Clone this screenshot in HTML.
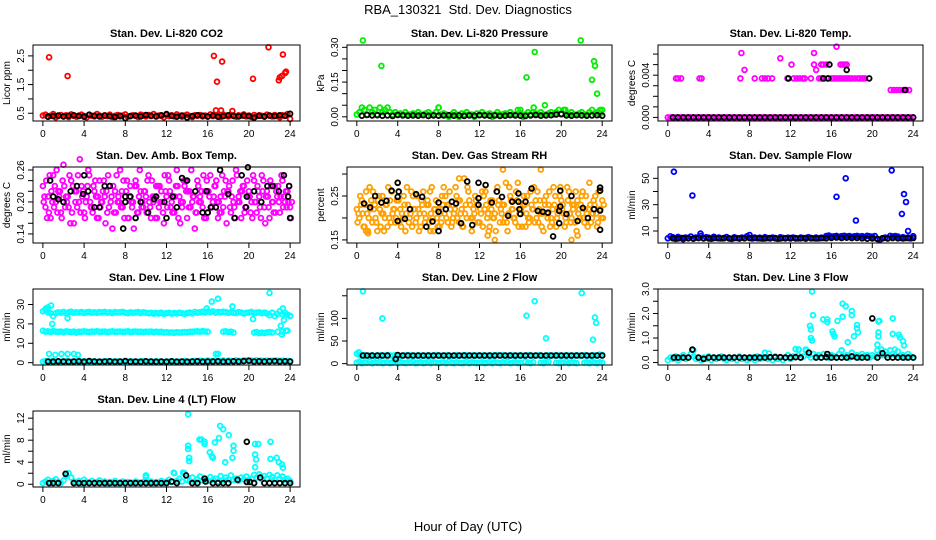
<!DOCTYPE html>
<html><head><meta charset="utf-8"><title>RBA_130321 Std. Dev. Diagnostics</title>
<style>html,body{margin:0;padding:0;background:#fff}svg{display:block;font-family:"Liberation Sans",Arial,sans-serif}</style>
</head><body>
<svg id="chart" width="936" height="540" viewBox="0 0 936 540" xmlns="http://www.w3.org/2000/svg">
<rect x="0" y="0" width="936" height="540" fill="#fff"/>
<text x="468" y="14" text-anchor="middle" font-size="13">RBA_130321&#160; Std. Dev. Diagnostics</text>
<text x="468" y="531" text-anchor="middle" font-size="13">Hour of Day (UTC)</text>
</svg>
<script>
// ---------- shared x data ----------
const xTicks = [0,4,8,12,16,20,24];
// ---------- CO2 ----------
const co2Band = [0.42,0.45,0.38,0.41,0.47,0.36,0.40,0.44,0.39,0.43,0.37,0.46,0.41,0.38,0.42,0.45,0.40,0.36,0.44,0.41,0.39,0.47,0.42,0.38,0.43,0.40,0.45,0.37,0.41,0.44,0.39,0.42,0.46,0.38,0.40,0.43,0.41,0.37,0.45,0.42,0.39,0.44,0.40,0.47,0.38,0.42,0.41,0.36,0.44,0.40,0.43,0.39,0.46,0.41,0.38,0.42,0.45,0.40,0.37,0.43,0.41,0.44,0.39,0.42,0.38,0.46,0.40,0.43,0.41,0.37,0.45,0.42,0.39,0.44,0.40,0.38,0.43,0.41,0.46,0.39,0.42,0.37,0.44,0.40,0.43,0.41,0.38,0.45,0.42,0.39,0.44,0.40,0.36,0.43,0.41,0.47,0.30];
const co2OutHours = [0.6,2.4,16.6,16.9,17.4,20.4,21.9,22.9,23.0,23.2,23.3,23.5,23.6,16.8,17.3,18.4];
const co2OutVals  = [2.45,1.8,2.5,1.6,2.3,1.7,2.8,1.65,1.75,1.8,2.55,1.9,1.95,0.6,0.6,0.58];
const co2Mean = [0.38,0.40,0.42,0.39,0.41,0.43,0.40,0.38,0.45,0.41,0.39,0.42,0.40,0.37,0.41,0.33,0.40,0.42,0.39,0.44,0.41,0.40,0.43,0.47,0.41,0.38,0.42,0.35,0.40,0.43,0.41,0.39,0.42,0.38,0.40,0.43,0.41,0.39,0.42,0.40,0.35,0.41,0.39,0.42,0.40,0.43,0.41,0.48];
// ---------- Pressure ----------
const presBand = [0.01,0.02,0.04,0.03,0.01,0.04,0.02,0.03,0.01,0.04,0.02,0.03,0.04,0.02,0.01,0.02,0.01,0.015,0.01,0.02,0.01,0.01,0.015,0.01,0.02,0.01,0.01,0.015,0.02,0.01,0.01,0.02,0.04,0.01,0.015,0.01,0.00,0.01,0.02,0.01,0.00,0.015,0.01,0.02,0.01,0.01,0.00,0.015,0.01,0.02,0.01,0.01,0.015,0.00,0.01,0.02,0.01,0.01,0.015,0.01,0.02,0.01,0.01,0.03,0.015,0.00,0.01,0.02,0.01,0.02,0.015,0.01,0.02,0.01,0.01,0.015,0.02,0.01,0.02,0.03,0.01,0.03,0.015,0.01,0.02,0.01,0.01,0.015,0.02,0.01,0.01,0.02,0.03,0.015,0.02,0.01,0.03];
const presOutHours = [0.6,2.4,16.6,17.4,21.9,23.0,23.2,23.3,23.5,23.8,8.0,18.4,16.0,20.4,17.3];
const presOutVals  = [0.33,0.22,0.17,0.28,0.33,0.16,0.24,0.22,0.10,0.03,0.04,0.05,0.03,0.03,0.04];
const presMean = [0.005,0.008,0.006,0.007,0.005,0.006,0.004,0.008,0.006,0.005,0.006,0.005,0.007,0.004,0.006,0.005,0.006,0.007,0.005,0.006,0.004,0.006,0.005,0.007,0.006,0.005,0.006,0.004,0.005,0.007,0.006,0.005,0.004,0.006,0.008,0.005,0.006,0.007,0.010,0.012,0.006,0.005,0.007,0.006,0.005,0.006,0.007,0.005];
// ---------- Li-820 Temp ----------
const tempBand = [0,0,0,0,0,0,0,0,0,0,0,0,0,0,0,0,0,0,0,0,0,0,0,0,0,0,0,0,0,0,0,0,0,0,0,0,0,0,0,0,0,0,0,0,0,0,0,0,0,0,0,0,0,0,0,0,0,0,0,0,0,0,0,0,0,0,0,0,0,0,0,0,0,0,0,0,0,0,0,0,0,0,0,0,0,0,0,0,0,0,0,0,0,0,0,0,0];
const tempOutHours = [0.8,1.0,1.3,3.1,3.3,7.1,7.2,7.5,8.5,9.2,9.5,9.8,10.2,11.0,11.7,12.1,12.3,12.6,12.9,13.2,13.4,14.0,14.3,14.3,14.5,14.8,15.0,15.3,15.6,16.0,16.2,16.5,16.8,17.0,17.2,17.4,17.6,17.8,18.0,18.3,18.6,19.0,19.3,16.9,17.1,17.3,17.5,15.2,15.5,21.8,22.1,22.4,22.7,23.0,23.3,23.6,15.0,16.4,16.6,18.8,19.1];
const tempOutVals  = [0.0037,0.0037,0.0037,0.0037,0.0037,0.0037,0.0061,0.0045,0.0037,0.0037,0.0037,0.0037,0.0037,0.0056,0.0037,0.0050,0.0037,0.0037,0.0037,0.0037,0.0037,0.0037,0.0061,0.0050,0.0045,0.0037,0.0037,0.0037,0.0037,0.0037,0.0037,0.0067,0.0037,0.0037,0.0037,0.0037,0.0037,0.0037,0.0037,0.0037,0.0037,0.0037,0.0037,0.0050,0.0050,0.0050,0.0050,0.0050,0.0050,0.0026,0.0026,0.0026,0.0026,0.0026,0.0026,0.0026,0.0050,0.0037,0.0037,0.0037,0.0037];
const tempMean = [0,0,0,0,0,0,0,0,0,0,0,0,0,0,0,0,0,0,0,0,0,0,0,0,0,0,0,0,0,0,0,0,0,0,0,0,0,0,0,0,0,0,0,0,0,0,0,0];
const tempMeanExHours = [11.8,15.2,15.7,19.7,15.8,17.5,23.2];
const tempMeanExVals  = [0.0037,0.0037,0.0037,0.0037,0.0050,0.0045,0.0026];
// ---------- Amb. Box Temp ----------
const ambA = [0.23,0.19,0.21,0.17,0.25,0.20,0.22,0.18,0.27,0.21,0.19,0.24,0.16,0.22,0.20,0.23,0.18,0.21,0.25,0.19,0.22,0.17,0.24,0.20,0.21,0.18,0.23,0.15,0.22,0.20,0.26,0.19,0.21,0.17,0.23,0.20,0.24,0.18,0.22,0.19,0.21,0.25,0.17,0.20,0.23,0.19,0.22,0.16,0.21,0.24,0.20,0.18,0.26,0.21,0.19,0.23,0.17,0.22,0.20,0.15,0.24,0.21,0.19,0.22,0.18,0.25,0.20,0.23,0.17,0.21,0.19,0.24,0.22,0.18,0.20,0.26,0.21,0.17,0.23,0.19,0.22,0.20,0.24,0.18,0.21,0.25,0.19,0.22,0.17,0.20,0.23,0.21,0.18,0.24,0.20,0.22,0.19];
const ambB = [0.20,0.24,0.18,0.22,0.19,0.26,0.21,0.17,0.23,0.20,0.25,0.18,0.22,0.19,0.28,0.21,0.17,0.23,0.20,0.18,0.24,0.21,0.19,0.22,0.16,0.25,0.20,0.23,0.18,0.21,0.19,0.24,0.22,0.17,0.20,0.15,0.23,0.21,0.19,0.22,0.18,0.20,0.24,0.21,0.17,0.23,0.20,0.25,0.19,0.22,0.18,0.21,0.23,0.16,0.20,0.24,0.22,0.19,0.21,0.18,0.23,0.20,0.25,0.17,0.22,0.19,0.21,0.24,0.20,0.18,0.22,0.16,0.23,0.21,0.19,0.25,0.20,0.22,0.18,0.24,0.21,0.17,0.20,0.23,0.19,0.22,0.16,0.21,0.24,0.20,0.18,0.23,0.21,0.19,0.22,0.20,0.17];
const ambC = [0.21,0.17,0.25,0.20,0.23,0.18,0.22,0.24,0.19,0.21,0.16,0.23,0.20,0.25,0.18,0.22,0.20,0.26,0.19,0.23,0.21,0.17,0.20,0.24,0.22,0.19,0.21,0.18,0.25,0.20,0.22,0.17,0.24,0.21,0.19,0.23,0.18,0.26,0.20,0.22,0.24,0.19,0.21,0.17,0.23,0.20,0.18,0.22,0.25,0.19,0.21,0.23,0.17,0.20,0.24,0.22,0.19,0.26,0.21,0.18,0.20,0.22,0.17,0.24,0.21,0.19,0.23,0.20,0.18,0.25,0.21,0.22,0.19,0.24,0.17,0.20,0.22,0.23,0.19,0.21,0.18,0.25,0.20,0.22,0.17,0.24,0.21,0.19,0.23,0.18,0.22,0.20,0.25,0.21,0.19,0.23,0.20];
const ambMeanHours = [0.7,1.0,1.5,2.0,2.7,3.3,3.9,4.0,4.4,5.0,5.5,6.0,6.5,7.8,8.0,8.0,8.5,9.0,9.5,10.2,10.8,11.0,11.8,12.0,12.6,13.0,13.5,14.0,14.8,15.5,15.9,16.0,16.3,16.8,17.2,18.0,18.6,19.3,19.7,19.8,19.9,20.5,21.2,21.8,22.3,22.9,23.4,23.8,23.9,24.0];
const ambMeanVals  = [0.24,0.21,0.205,0.20,0.22,0.23,0.215,0.25,0.22,0.19,0.19,0.23,0.23,0.15,0.21,0.20,0.21,0.17,0.20,0.18,0.205,0.21,0.20,0.17,0.21,0.19,0.245,0.24,0.22,0.18,0.22,0.18,0.19,0.19,0.26,0.215,0.17,0.25,0.19,0.21,0.265,0.22,0.20,0.23,0.23,0.22,0.25,0.21,0.23,0.17];
// ---------- Gas Stream RH ----------
const rhA = [0.22,0.20,0.24,0.18,0.21,0.27,0.19,0.23,0.17,0.22,0.25,0.20,0.18,0.24,0.21,0.19,0.28,0.22,0.20,0.17,0.23,0.21,0.25,0.19,0.22,0.18,0.26,0.20,0.23,0.21,0.17,0.24,0.22,0.19,0.27,0.20,0.23,0.18,0.21,0.25,0.19,0.22,0.29,0.20,0.24,0.17,0.21,0.23,0.19,0.26,0.22,0.20,0.18,0.24,0.21,0.27,0.19,0.23,0.20,0.17,0.25,0.22,0.19,0.28,0.21,0.23,0.18,0.20,0.26,0.22,0.24,0.19,0.21,0.17,0.25,0.23,0.20,0.27,0.18,0.22,0.24,0.21,0.19,0.26,0.20,0.23,0.17,0.22,0.25,0.19,0.21,0.28,0.20,0.23,0.18,0.22,0.24];
const rhB = [0.19,0.25,0.21,0.23,0.17,0.22,0.26,0.20,0.24,0.18,0.21,0.23,0.27,0.19,0.22,0.20,0.24,0.18,0.25,0.21,0.19,0.26,0.22,0.20,0.17,0.24,0.21,0.23,0.19,0.27,0.22,0.20,0.18,0.25,0.21,0.23,0.26,0.19,0.22,0.20,0.24,0.18,0.21,0.27,0.23,0.20,0.25,0.19,0.22,0.18,0.26,0.21,0.24,0.20,0.17,0.23,0.22,0.19,0.28,0.21,0.24,0.20,0.26,0.18,0.22,0.25,0.21,0.19,0.23,0.27,0.20,0.22,0.18,0.24,0.21,0.26,0.19,0.23,0.20,0.25,0.22,0.18,0.27,0.21,0.23,0.19,0.24,0.20,0.26,0.22,0.18,0.23,0.21,0.25,0.19,0.22,0.20];
const rhC = [0.21,0.23,0.18,0.26,0.20,0.24,0.22,0.19,0.25,0.21,0.17,0.23,0.20,0.26,0.22,0.24,0.19,0.21,0.23,0.27,0.20,0.18,0.22,0.25,0.21,0.23,0.19,0.24,0.26,0.20,0.22,0.18,0.21,0.23,0.25,0.19,0.22,0.20,0.27,0.24,0.21,0.18,0.23,0.26,0.20,0.22,0.24,0.19,0.21,0.25,0.23,0.17,0.22,0.20,0.26,0.24,0.21,0.23,0.19,0.27,0.22,0.20,0.24,0.21,0.18,0.23,0.25,0.20,0.22,0.19,0.26,0.24,0.21,0.23,0.20,0.18,0.22,0.25,0.21,0.27,0.23,0.20,0.24,0.19,0.22,0.26,0.21,0.23,0.20,0.25,0.22,0.19,0.24,0.21,0.26,0.20,0.23];
const rhOutHours = [0.9,1.1,7.2,13.5,14.3,18.0,21.0,21.6,10.0,12.8];
const rhOutVals  = [0.17,0.165,0.17,0.15,0.31,0.31,0.15,0.16,0.29,0.16];
const rhMeanHours = [0.7,1.3,1.8,2.4,2.9,3.4,4.0,4.0,4.1,4.0,4.7,5.2,5.8,6.4,6.8,7.4,8.0,8.0,8.0,8.7,9.3,9.7,10.2,10.8,11.3,11.9,11.9,11.9,12.6,13.2,13.7,14.2,14.8,15.2,15.8,15.8,15.9,16.0,16.5,17.1,17.7,18.2,18.7,19.2,19.8,19.9,19.8,19.9,20.5,21.0,21.6,22.1,22.6,23.2,23.8,23.8,23.8,23.8];
const rhMeanVals  = [0.233,0.224,0.25,0.235,0.239,0.262,0.28,0.248,0.26,0.193,0.198,0.22,0.254,0.248,0.18,0.192,0.214,0.235,0.17,0.22,0.237,0.233,0.188,0.283,0.184,0.28,0.245,0.23,0.275,0.235,0.26,0.248,0.205,0.237,0.256,0.237,0.22,0.209,0.237,0.267,0.216,0.214,0.212,0.158,0.216,0.226,0.188,0.262,0.209,0.25,0.193,0.223,0.2,0.22,0.269,0.262,0.217,0.173];
// ---------- Sample Flow ----------
const flowBand = [4.5,6.0,5.2,4.0,5.5,4.8,3.8,5.0,4.6,5.8,4.2,5.1,4.7,6.2,4.4,5.3,4.9,4.1,5.6,4.6,5.0,4.3,4.8,5.4,4.5,4.0,5.2,4.7,4.4,5.0,4.6,6.0,4.8,4.3,5.1,4.5,4.9,4.2,5.3,4.6,4.4,5.0,4.7,4.1,5.2,4.8,4.5,4.9,4.3,5.1,4.6,4.4,5.0,4.7,4.2,5.3,4.8,4.5,5.0,4.4,4.9,4.6,6.2,6.5,5.8,6.0,6.3,5.7,6.1,6.4,5.9,6.2,5.6,6.0,6.3,5.8,6.1,5.5,6.4,6.0,5.7,6.2,4.0,3.5,4.5,5.0,4.6,6.3,5.9,6.2,5.8,4.8,5.3,4.6,5.0,4.4,6.0];
const flowOutHours = [0.6,2.4,3.2,16.5,17.4,18.4,21.9,22.9,23.1,23.3,23.5,24.0,8.0];
const flowOutVals  = [55,37,8,36,50,18,56,23,38,32,10,6,7];
const flowMean = [4.5,4.4,4.6,4.5,4.3,4.7,4.5,4.4,4.6,4.5,4.5,4.4,4.6,4.3,4.5,4.7,4.8,4.5,4.4,4.6,4.5,4.3,4.5,4.6,4.4,4.5,4.7,4.5,4.4,4.6,4.5,4.8,5.0,4.7,4.9,4.6,4.8,4.5,4.2,4.4,4.0,4.5,4.3,4.6,4.5,4.4,4.6,4.7];
// ---------- Line 1 Flow ----------
const l1High = [26.5,27,26,25.5,24,25.5,26,25.8,26.2,25.5,26,26.3,25.7,26,25.9,26.1,25.6,26,26.2,25.8,26,25.7,26.1,25.9,26.2,25.8,26,25.6,26.1,25.9,26,26.2,25.8,25.5,26,25.7,25.9,26.1,25.6,26,25.8,25.5,25.7,25.3,25.6,25.4,25.8,25.2,25.5,25.7,25.3,25.6,25.4,25.8,25.5,25.2,25.6,25.9,25.4,26.2,25.8,26,26.3,25.9,26.4,26.1,26.5,25.8,26.2,26,26.3,26.1,25.7,26,25.8,25.6,26.1,25.9,25.4,25.7,25.9,26.2,25.6,25.8,26,25.5,25.9,25.3,24.5,25.8,24,25.2,26.5,25,25.7,24.8,24.2];
const l1Mid = [16.5,16,16.2,15.8,16.3,16,15.9,16.1,15.7,16.2,16,15.8,16.1,15.5,16,15.9,16.2,16,15.8,16.1,16,16.2,15.9,16,16.1,15.8,16,16.2,15.9,16,16.1,15.9,16,16.2,15.8,16,16.1,15.9,16,15.8,16,15.9,16.1,15.7,16,15.8,15.9,15.6,15.7,15.5,15.6,15.4,15.7,15.5,15.6,15.8,15.7,15.9,16,16.1,16.2,16,16.3,16.1,16,null,null,null,null,null,16,16.2,15.8,16,15.5,null,null,null,null,null,null,null,15.5,15.8,15.2,15.5,15.3,15.6,15.8,15.5,null,null,null,16,null,16.5,null];
const l1Low = [0.5,0.8,0.4,0.6,0.9,0.5,0.7,0.4,0.6,0.8,0.5,0.6,0.4,0.7,0.5,0.6,0.8,0.4,0.5,0.6,0.7,0.4,0.5,0.6,0.5,0.8,0.4,0.6,0.5,0.7,0.5,0.4,0.6,0.5,0.7,0.6,0.4,0.5,0.6,0.8,0.5,0.4,0.6,0.5,0.7,0.5,0.6,0.4,0.5,0.6,0.7,0.5,0.4,0.6,0.5,0.8,0.6,0.5,0.7,0.9,0.6,1.0,0.8,0.7,1.1,0.9,0.8,1.0,0.7,0.9,1.1,0.8,1.0,0.9,0.7,1.2,0.9,0.8,1.0,1.1,0.9,1.0,0.8,1.2,0.9,1.0,0.8,1.1,0.9,1.0,0.8,1.1,0.9,1.0,0.7,0.9,0.8];
const l1OutHours = [0.3,0.5,0.8,0.9,0.6,1.2,1.8,2.4,3.0,3.4,2.4,15.9,16.4,17.0,18.4,20.4,22.0,23.0,23.3,23.4,23.1,23.2,22.8,23.6,24.0,16.8,17.0];
const l1OutVals  = [28,28.5,29.5,20,4.5,4,4.5,4.5,4.5,4,23,28,31.5,33,29,22.5,36,26.5,28,22,19,14.5,16,16.5,24,4.5,4.5];
const l1Mean = [0.6,0.5,0.7,0.6,0.5,0.6,0.7,0.5,0.8,0.6,0.5,0.6,0.7,0.5,0.6,0.8,0.5,0.6,0.5,0.7,0.6,0.5,0.6,0.5,0.7,0.5,0.6,0.5,0.6,0.7,0.5,0.6,0.6,0.7,0.5,0.6,0.7,0.6,0.8,1.0,0.6,0.7,0.6,0.7,0.8,0.6,0.7,0.6];
// ---------- Line 2 Flow ----------
const l2High = [22,19,18,18.5,17.5,18,18.5,17,18,18.5,17.5,18,19,18,17.5,18.5,18,17,18,18.5,19,18,17.5,18,18.5,18,17,18,18.5,17.5,18,19,18,17.5,18,18.5,18,17,18,18.5,17.5,18,19,18,18,18.5,17.5,18,18.5,18,17,18,18.5,17.5,18,19,18,18.5,17.5,18,18.5,18,17,18,18.5,17.5,18,19,18,17.5,18,18.5,18,17,18,18.5,17.5,18,19,18,17.5,18,18.5,18,17,18,18.5,17.5,18,19,18,17.5,18,18.5,18,20,19];
const l2Low = [2,4,1,3,2,5,1,3,2,4,1,2,3,1,2,4,1,3,2,1,3,2,4,1,2,3,1,2,4,1,3,2,1,2,3,1,4,2,1,3,2,1,2,4,1,3,2,1,2,3,1,2,4,1,3,2,1,3,2,4,1,2,3,1,2,null,4,2,1,3,null,null,2,1,3,4,null,null,2,1,3,2,4,1,3,2,1,null,null,2,3,1,4,2,1,3,2];
const l2OutHours = [0.6,2.5,16.6,17.4,18.5,22.0,23.1,23.3,23.4,0.2];
const l2OutVals  = [160,100,106,138,56,156,53,102,90,25];
const l2MeanHours = [0.6,1.0,1.5,2.0,2.5,3.0,3.8,4.0,4.5,5.0,5.5,6.0,6.5,7.0,7.5,8.0,8.5,9.0,9.5,10.0,10.5,11.0,11.5,12.0,12.5,13.0,13.5,14.0,14.5,15.0,15.5,16.0,16.5,17.0,17.5,18.0,18.5,19.0,19.5,20.0,20.5,21.0,21.5,22.0,22.5,23.0,23.5,24.0];
const l2MeanVals  = [18,18,18,18,18,18,10,19,18,18,18,18,18,18,18,18,18,18,18,18,18,18,18,18,18,18,18,18,18,18,18,18,18,18,18,18,18,18,18,18,18,18,18,18,18,18,18,18];
// ---------- Line 3 Flow ----------
const l3Band = [0.1,0.2,0.15,0.25,0.1,0.2,0.3,0.15,0.2,0.35,0.25,0.15,0.2,0.1,0.2,0.15,0.25,0.1,0.2,0.15,0.2,0.25,0.15,0.1,0.2,0.15,0.2,0.1,0.25,0.15,0.2,0.1,0.15,0.2,0.1,0.25,0.15,0.2,0.4,0.15,0.2,0.1,0.25,0.15,0.2,0.1,0.2,0.3,0.15,0.25,0.55,0.3,0.2,0.25,0.5,0.3,0.2,0.35,0.25,0.3,0.2,0.35,0.25,0.2,0.3,0.25,0.2,0.35,0.5,0.25,0.3,0.2,0.4,0.25,0.3,0.2,0.35,0.25,0.3,0.2,0.3,0.25,0.5,0.35,0.3,0.45,0.3,0.5,0.35,0.3,0.45,0.25,0.3,0.2,0.35,0.25,0.2];
const l3OutHours = [14.1,13.9,14.0,14.0,14.1,14.2,15.2,15.6,15.6,16.1,16.2,16.3,16.6,17.1,17.1,17.4,17.6,18.0,18.0,18.2,18.5,18.5,18.6,20.6,20.7,20.6,20.6,20.5,22.0,22.0,22.6,22.7,23.0,23.1,12.8,13.5,17.0,20.9,22.2,9.9,2.5];
const l3OutVals  = [2.9,1.5,1.35,1.0,0.9,1.93,1.76,1.76,1.65,1.27,1.17,1.07,1.7,1.87,2.4,2.3,0.83,2.1,1.93,1.07,1.4,1.53,1.23,1.67,1.7,1.23,1.07,0.73,1.8,1.17,1.13,1.03,0.87,0.7,0.53,0.53,0.5,0.53,0.53,0.37,0.5];
const l3MeanHours = [0.6,1.0,1.5,2.0,2.4,3.0,3.5,4.0,4.5,5.0,5.5,6.0,6.5,7.0,7.5,8.0,8.5,9.0,9.5,10.0,10.5,11.0,11.5,12.0,12.5,13.0,13.8,14.5,15.0,15.5,15.6,16.0,16.5,17.0,17.5,18.0,18.5,19.0,19.5,20.0,20.5,21.0,21.5,22.0,22.5,23.0,23.5,24.0];
const l3MeanVals  = [0.2,0.2,0.2,0.2,0.53,0.2,0.15,0.2,0.2,0.2,0.2,0.2,0.2,0.2,0.2,0.2,0.2,0.2,0.2,0.22,0.22,0.22,0.2,0.2,0.22,0.2,0.4,0.2,0.2,0.22,0.35,0.2,0.2,0.2,0.2,0.25,0.2,0.2,0.2,1.8,0.2,0.38,0.2,0.2,0.2,0.2,0.2,0.2];
// ---------- Line 4 (LT) Flow ----------
const l4Band = [0.2,0.5,0.8,0.3,0.6,0.9,0.4,0.2,0.7,1.5,2.0,1.2,0.5,0.3,0.6,0.2,0.8,0.4,0.3,0.6,0.2,0.4,0.7,0.3,0.5,0.2,0.4,0.3,0.6,0.2,0.3,0.5,0.2,0.4,0.3,0.2,0.5,0.3,0.2,0.4,1.6,0.3,0.5,0.2,0.4,0.3,0.6,0.2,0.5,0.8,0.4,2.0,0.6,1.0,0.5,2.0,0.8,0.6,1.2,0.5,0.9,1.4,0.7,1.0,0.6,1.3,0.8,1.0,0.5,1.5,0.7,1.2,0.9,1.6,0.8,1.0,0.6,1.2,0.9,1.4,0.8,1.0,1.7,1.2,1.8,0.9,1.5,1.1,1.7,1.3,0.9,1.6,1.0,1.4,0.8,1.0,0.6];
const l4OutHours = [14.1,14.1,14.1,14.2,14.2,15.2,15.4,15.7,15.7,16.2,16.4,16.5,16.7,17.1,17.2,17.5,17.7,18.05,18.4,18.5,18.5,20.6,20.9,20.6,20.7,20.6,22.1,22.1,22.7,22.9,23.2,23.3,2.2,10.0,12.7,13.6];
const l4OutVals  = [12.7,7.0,6.4,4.8,4.2,8.1,8.1,7.7,7.3,5.8,5.1,4.8,7.6,8.4,10.6,10.0,4.0,8.9,4.8,6.1,7.0,7.3,7.3,5.4,4.5,3.1,7.7,4.6,4.8,4.0,3.6,3.0,1.8,1.3,2.1,2.1];
const l4MeanHours = [0.6,1.0,1.5,2.2,3.0,3.5,4.0,4.5,5.0,5.5,6.0,6.5,7.0,7.5,8.0,8.5,9.0,9.5,10.0,10.5,11.0,11.5,12.0,12.5,13.0,13.9,14.5,15.0,15.7,15.8,16.5,17.0,17.5,18.0,18.9,19.8,19.8,20.1,20.5,21.1,21.5,22.0,22.5,23.0,23.5,24.0];
const l4MeanVals  = [0.2,0.2,0.2,1.9,0.2,0.2,0.2,0.2,0.2,0.2,0.2,0.2,0.2,0.2,0.2,0.2,0.2,0.2,0.2,0.2,0.2,0.2,0.2,0.5,0.2,1.6,0.2,0.2,1.0,0.5,0.2,0.2,0.2,0.2,0.8,7.7,0.4,0.4,0.2,1.2,0.2,0.2,0.2,0.2,0.2,0.2];

// ---------- layout (not data) ----------
const NS = 'http://www.w3.org/2000/svg';
const svg = document.getElementById('chart');
const colX = [[33,300],[347,612],[658,923]];
const rowY = [45,167,289,411];
const boxH = 76;
const X_MIN = -0.96, X_MAX = 24.96;
const bandHours = Array.from({length:97},(_,i)=>i*0.25);
const meanHours = Array.from({length:48},(_,i)=>0.5+i*0.5);
const shift = (arr,d)=>arr.map(h=>h+d);

function mk(tag, attrs){
  const e = document.createElementNS(NS, tag);
  for (const k in attrs) e.setAttribute(k, attrs[k]);
  return e;
}

function drawPanel(p){
  const [x0,x1] = colX[p.col];
  const y0 = rowY[p.row], y1 = y0 + boxH;
  const sx = h => x0 + (h - X_MIN) / (X_MAX - X_MIN) * (x1 - x0);
  const sy = v => y1 - (v - p.yMin) / (p.yMax - p.yMin) * boxH;
  const g = mk('g', {});
  
  
  svg.appendChild(g);
  const t = mk('text', {x:(x0+x1)/2, y:y0-8, 'text-anchor':'middle', 'font-size':'11', 'font-weight':'bold'});
  
  
  t.textContent = p.title;
  g.appendChild(t);
  p.series.forEach(s => {
    const sg = mk('g', {fill:'none', stroke:s.color, 'stroke-width':'1.8'});
    
    
    g.appendChild(sg);
    for (let i = 0; i < s.values.length; i++) {
      const v = s.values[i], h = s.hours[i];
      if (v === null || v === undefined || h === undefined) continue;
      const c = mk('circle', {cx:sx(h).toFixed(1), cy:sy(v).toFixed(1), r:'2.4'});
      
      
      sg.appendChild(c);
    }
  });
  const b = mk('rect', {x:x0, y:y0, width:x1-x0, height:boxH, fill:'none', stroke:'#000', 'stroke-width':'1'});
  
  
  g.appendChild(b);
  const xa = mk('g', {stroke:'#000', 'stroke-width':'1'});
  
  
  g.appendChild(xa);
  xTicks.forEach(tv => {
    const x = sx(tv);
    xa.appendChild(mk('line', {x1:x, x2:x, y1:y1, y2:y1+5}));
    const lt = mk('text', {x:x, y:y1+16, 'text-anchor':'middle', 'font-size':'10', stroke:'none', fill:'#000'});
    
    
    lt.textContent = tv;
    xa.appendChild(lt);
  });
  const ya = mk('g', {stroke:'#000', 'stroke-width':'1'});
  
  
  g.appendChild(ya);
  p.yTicks.forEach((tv, i) => {
    const y = sy(tv);
    ya.appendChild(mk('line', {x1:x0-5, x2:x0, y1:y, y2:y}));
    const lab = p.yLabels[i];
    if (lab) {
      const lt = mk('text', {x:x0-9, y:y, 'text-anchor':'middle', 'font-size':'10', stroke:'none', fill:'#000', transform:`rotate(-90 ${x0-9} ${y})`});
      
      
      lt.textContent = lab;
      ya.appendChild(lt);
    }
  });
  const yl = mk('text', {x:x0-23, y:(y0+y1)/2, 'text-anchor':'middle', 'font-size':'10', transform:`rotate(-90 ${x0-23} ${(y0+y1)/2})`});
  
  
  yl.textContent = p.yTitle;
  g.appendChild(yl);
}

const RED='#ff0000', GRN='#00ee00', MAG='#ff00ff', ORG='#ffa000', BLU='#0000ff', CYA='#00ffff', BLK='#000000';

const panels = [
 {name:'co2', title:'Stan. Dev. Li-820 CO2', col:0,row:0, yMin:0.23,yMax:2.88, yTitle:'Licor ppm',
  yTicks:[0.5,1,1.5,2,2.5], yLabels:['0.5','','1.5','','2.5'],
  series:[{id:'red',color:RED,hours:bandHours,values:co2Band},{id:'red-out',color:RED,hours:co2OutHours,values:co2OutVals},{id:'mean',color:BLK,hours:meanHours,values:co2Mean}]},
 {name:'pressure', title:'Stan. Dev. Li-820 Pressure', col:1,row:0, yMin:-0.018,yMax:0.31, yTitle:'kPa',
  yTicks:[0,0.05,0.10,0.15,0.20,0.25,0.30], yLabels:['0.00','','','0.15','','','0.30'],
  series:[{id:'green',color:GRN,hours:bandHours,values:presBand},{id:'green-out',color:GRN,hours:presOutHours,values:presOutVals},{id:'mean',color:BLK,hours:meanHours,values:presMean}]},
 {name:'temp', title:'Stan. Dev. Li-820 Temp.', col:2,row:0, yMin:-0.00034,yMax:0.00686, yTitle:'degrees C',
  yTicks:[0,0.001,0.002,0.003,0.004,0.005,0.006], yLabels:['0.000','','','','0.004','',''],
  series:[{id:'magenta',color:MAG,hours:bandHours,values:tempBand},{id:'magenta-out',color:MAG,hours:tempOutHours,values:tempOutVals},{id:'mean',color:BLK,hours:meanHours,values:tempMean},{id:'mean-out',color:BLK,hours:tempMeanExHours,values:tempMeanExVals}]},
 {name:'amb-temp', title:'Stan. Dev. Amb. Box Temp.', col:0,row:1, yMin:0.123,yMax:0.2656, yTitle:'degrees C',
  yTicks:[0.14,0.16,0.18,0.20,0.22,0.24,0.26], yLabels:['0.14','','','0.20','','','0.26'],
  series:[{id:'a',color:MAG,hours:bandHours,values:ambA},{id:'b',color:MAG,hours:shift(bandHours,0.08),values:ambB},{id:'c',color:MAG,hours:shift(bandHours,0.16),values:ambC},{id:'mean',color:BLK,hours:ambMeanHours,values:ambMeanVals}]},
 {name:'rh', title:'Stan. Dev. Gas Stream RH', col:1,row:1, yMin:0.143,yMax:0.316, yTitle:'percent',
  yTicks:[0.15,0.20,0.25,0.30], yLabels:['0.15','','0.25',''],
  series:[{id:'a',color:ORG,hours:bandHours,values:rhA},{id:'b',color:ORG,hours:shift(bandHours,0.08),values:rhB},{id:'c',color:ORG,hours:shift(bandHours,0.16),values:rhC},{id:'out',color:ORG,hours:rhOutHours,values:rhOutVals},{id:'mean',color:BLK,hours:rhMeanHours,values:rhMeanVals}]},
 {name:'sample-flow', title:'Stan. Dev. Sample Flow', col:2,row:1, yMin:0.9,yMax:58.6, yTitle:'ml/min',
  yTicks:[10,20,30,40,50], yLabels:['10','','30','','50'],
  series:[{id:'blue',color:BLU,hours:bandHours,values:flowBand},{id:'blue-out',color:BLU,hours:flowOutHours,values:flowOutVals},{id:'mean',color:BLK,hours:meanHours,values:flowMean}]},
 {name:'line1', title:'Stan. Dev. Line 1 Flow', col:0,row:2, yMin:-1.2,yMax:38, yTitle:'ml/min',
  yTicks:[0,10,20,30], yLabels:['0','10','20','30'],
  series:[{id:'high',color:CYA,hours:bandHours,values:l1High},{id:'mid',color:CYA,hours:bandHours,values:l1Mid},{id:'low',color:CYA,hours:bandHours,values:l1Low},{id:'out',color:CYA,hours:l1OutHours,values:l1OutVals},{id:'mean',color:BLK,hours:meanHours,values:l1Mean}]},
 {name:'line2', title:'Stan. Dev. Line 2 Flow', col:1,row:2, yMin:-3,yMax:165, yTitle:'ml/min',
  yTicks:[0,50,100,150], yLabels:['0','50','100',''],
  series:[{id:'high',color:CYA,hours:bandHours,values:l2High},{id:'low',color:CYA,hours:bandHours,values:l2Low},{id:'out',color:CYA,hours:l2OutHours,values:l2OutVals},{id:'mean',color:BLK,hours:l2MeanHours,values:l2MeanVals}]},
 {name:'line3', title:'Stan. Dev. Line 3 Flow', col:2,row:2, yMin:-0.1,yMax:3.0, yTitle:'ml/min',
  yTicks:[0,0.5,1,1.5,2,2.5,3], yLabels:['0.0','','1.0','','2.0','','3.0'],
  series:[{id:'band',color:CYA,hours:bandHours,values:l3Band},{id:'out',color:CYA,hours:l3OutHours,values:l3OutVals},{id:'mean',color:BLK,hours:l3MeanHours,values:l3MeanVals}]},
 {name:'line4', title:'Stan. Dev. Line 4 (LT) Flow', col:0,row:3, yMin:-0.5,yMax:13.3, yTitle:'ml/min',
  yTicks:[0,2,4,6,8,10,12], yLabels:['0','','4','','8','','12'],
  series:[{id:'band',color:CYA,hours:bandHours,values:l4Band},{id:'out',color:CYA,hours:l4OutHours,values:l4OutVals},{id:'mean',color:BLK,hours:l4MeanHours,values:l4MeanVals}]}
];
panels.forEach(drawPanel);
</script>
</body></html>
